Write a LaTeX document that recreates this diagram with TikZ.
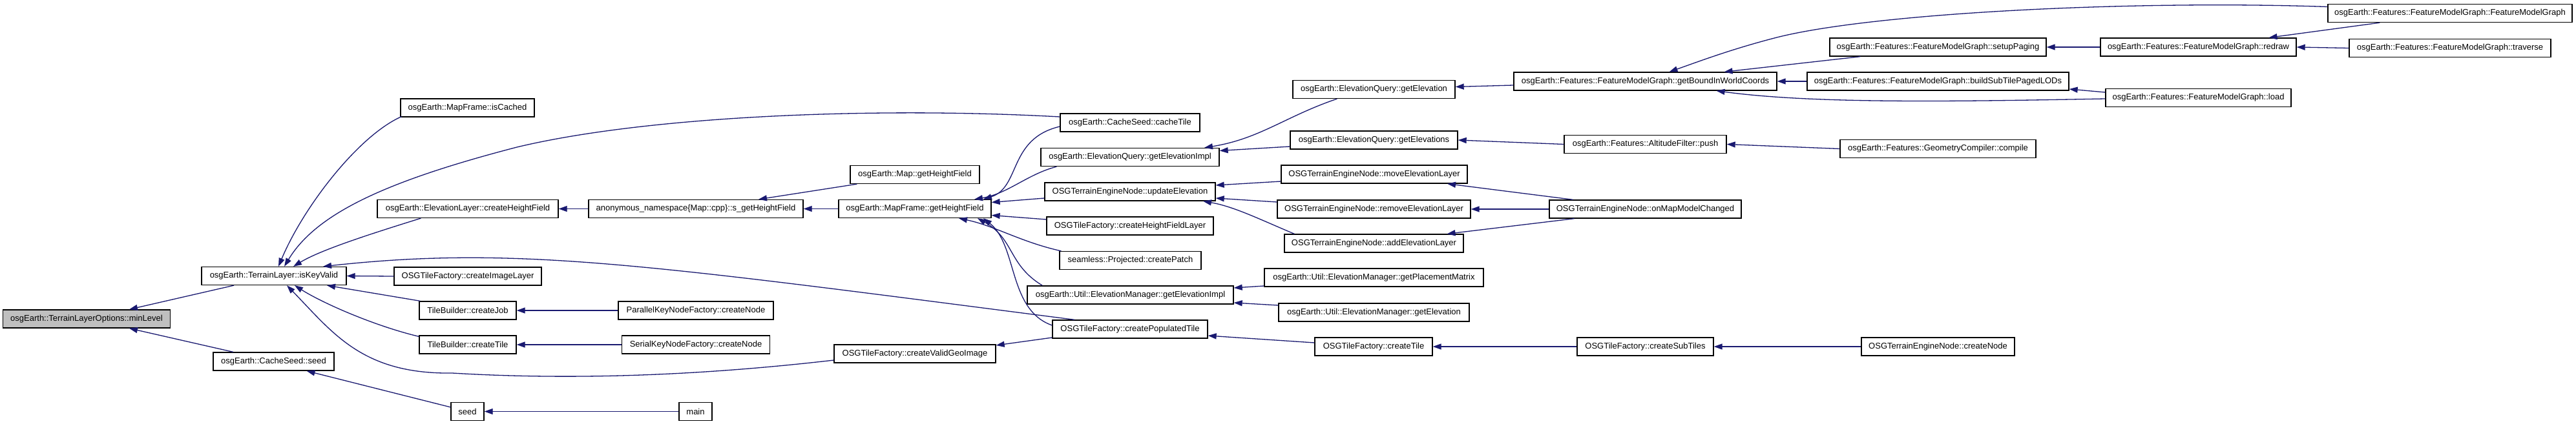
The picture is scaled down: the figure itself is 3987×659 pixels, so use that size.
\documentclass[tikz,border=0pt]{standalone}
\usepackage{fontspec}
\setmainfont{Liberation Sans}
\usetikzlibrary{arrows.meta,calc}
\definecolor{edgeblue}{HTML}{191970}
\definecolor{nodegrey}{HTML}{BFBFBF}
\tikzset{
  box/.style={draw=black, line width=1.3pt, fill=white, minimum height=28pt, inner sep=0pt, font=\fontsize{13}{15}\selectfont},
  edge/.style={draw=edgeblue, line width=1.3pt, -{Triangle[length=13pt,width=9pt]}}
}
\begin{document}
\begin{tikzpicture}[x=1pt,y=-1pt]
\fill[white] (0,0) rectangle (3987,659);
\useasboundingbox (0,0) rectangle (3987,659);
% nodes
\node[box,fill=nodegrey,minimum width=259pt] (ml) at (134,494) {osgEarth::TerrainLayerOptions::minLevel};
\node[box,minimum width=224pt] (kv) at (424,427.5) {osgEarth::TerrainLayer::isKeyValid};
\node[box,minimum width=187pt] (css) at (423.5,560) {osgEarth::CacheSeed::seed};
\node[box,minimum width=207pt] (ic) at (723.5,167) {osgEarth::MapFrame::isCached};
\node[box,minimum width=280pt] (echf) at (724,323.5) {osgEarth::ElevationLayer::createHeightField};
\node[box,minimum width=332pt] (anon) at (1077,323.5) {anonymous\_namespace\{Map::cpp\}::s\_getHeightField};
\node[box,minimum width=228pt] (cil) at (724,428) {OSGTileFactory::createImageLayer};
\node[box,minimum width=150pt] (cj) at (724,481) {TileBuilder::createJob};
\node[box,minimum width=240pt] (pk) at (1077,481) {ParallelKeyNodeFactory::createNode};
\node[box,minimum width=150pt] (ct) at (724,534) {TileBuilder::createTile};
\node[box,minimum width=229pt] (sk) at (1077,534) {SerialKeyNodeFactory::createNode};
\node[box,minimum width=51pt] (sd) at (723.5,637.5) {seed};
\node[box,minimum width=51pt] (mn) at (1076.5,637.5) {main};
\node[box,minimum width=200pt] (mghf) at (1416,270.5) {osgEarth::Map::getHeightField};
\node[box,minimum width=236pt] (mfghf) at (1416,323.5) {osgEarth::MapFrame::getHeightField};
\node[box,minimum width=250pt] (vgi) at (1416,548) {OSGTileFactory::createValidGeoImage};
\node[box,minimum width=216pt] (cst) at (1749,190) {osgEarth::CacheSeed::cacheTile};
\node[box,minimum width=276pt] (eqi) at (1749,243.5) {osgEarth::ElevationQuery::getElevationImpl};
\node[box,minimum width=264pt] (ue) at (1749,297) {OSGTerrainEngineNode::updateElevation};
\node[box,minimum width=258pt] (chfl) at (1749,350) {OSGTileFactory::createHeightFieldLayer};
\node[box,minimum width=219pt] (cp) at (1749.5,403.5) {seamless::Projected::createPatch};
\node[box,minimum width=319pt] (umi) at (1749.5,457) {osgEarth::Util::ElevationManager::getElevationImpl};
\node[box,minimum width=240pt] (cpt) at (1749,510) {OSGTileFactory::createPopulatedTile};
\node[box,minimum width=251pt] (eqe) at (2126.5,138.5) {osgEarth::ElevationQuery::getElevation};
\node[box,minimum width=259pt] (eqs) at (2126.5,217) {osgEarth::ElevationQuery::getElevations};
\node[box,minimum width=288pt] (mel) at (2127,270) {OSGTerrainEngineNode::moveElevationLayer};
\node[box,minimum width=299pt] (rel) at (2126.5,324) {OSGTerrainEngineNode::removeElevationLayer};
\node[box,minimum width=277pt] (ael) at (2126.5,377) {OSGTerrainEngineNode::addElevationLayer};
\node[box,minimum width=339pt] (pm) at (2126.5,430) {osgEarth::Util::ElevationManager::getPlacementMatrix};
\node[box,minimum width=295pt] (ume) at (2126.5,484) {osgEarth::Util::ElevationManager::getElevation};
\node[box,minimum width=182pt] (tct) at (2126,537) {OSGTileFactory::createTile};
\node[box,minimum width=407pt] (gb) at (2546.5,126) {osgEarth::Features::FeatureModelGraph::getBoundInWorldCoords};
\node[box,minimum width=251pt] (ap) at (2546.5,223.5) {osgEarth::Features::AltitudeFilter::push};
\node[box,minimum width=297pt] (omm) at (2546.5,324) {OSGTerrainEngineNode::onMapModelChanged};
\node[box,minimum width=211pt] (cst2) at (2546.5,537) {OSGTileFactory::createSubTiles};
\node[box,minimum width=335pt] (sp) at (2999.5,73) {osgEarth::Features::FeatureModelGraph::setupPaging};
\node[box,minimum width=405pt] (bs) at (2999.5,126) {osgEarth::Features::FeatureModelGraph::buildSubTilePagedLODs};
\node[box,minimum width=303pt] (gc) at (2999.5,230.5) {osgEarth::Features::GeometryCompiler::compile};
\node[box,minimum width=237pt] (cn) at (2999.5,537) {OSGTerrainEngineNode::createNode};
\node[box,minimum width=303pt] (rd) at (3402.5,73) {osgEarth::Features::FeatureModelGraph::redraw};
\node[box,minimum width=287pt] (ld) at (3402.5,151.5) {osgEarth::Features::FeatureModelGraph::load};
\node[box,minimum width=378pt] (fmg) at (3792,20.5) {osgEarth::Features::FeatureModelGraph::FeatureModelGraph};
\node[box,minimum width=312pt] (tr) at (3792,74.5) {osgEarth::Features::FeatureModelGraph::traverse};
% edges
\draw[edge] ($(kv.south)+(-62,0)$) -- ($(ml.north)+(66,0)$);
\draw[edge] ($(css.north)+(-62.5,0)$) -- ($(ml.south)+(66,0)$);
\draw[edge] ($(ic.south west)+(2,-1)$) .. controls (555,210) and (470,320) .. ($(kv.north)+(7,0)$);
\draw[edge] ($(cst.west)+(0,-9)$) .. controls (1350,165) and (1000,180) .. (800,228) .. controls (600,280) and (490,330) .. ($(kv.north)+(16,0)$);
\draw[edge] ($(echf.south west)+(68,0)$) .. controls (565,365) and (495,388) .. ($(kv.north)+(30,0)$);
\draw[edge] (cil.west) -- (kv.east);
\draw[edge] ($(cpt.north)+(-86,0)$) .. controls (1000,410) and (800,380) .. ($(kv.north)+(76,0)$);
\draw[edge] ($(cj.north west)+(2,0)$) -- ($(kv.south)+(82,0)$);
\draw[edge] ($(ct.north west)+(0,2)$) .. controls (580,505) and (500,470) .. ($(kv.south)+(32,0)$);
\draw[edge] ($(vgi.west)+(0,10)$) .. controls (1100,580) and (900,590) .. (700,578) .. controls (560,580) and (515,515) .. ($(kv.south)+(20,0)$);
\draw[edge] (anon.west) -- (echf.east);
\draw[edge] ($(mghf.south west)+(11,0)$) -- ($(anon.north)+(97,0)$);
\draw[edge] (mfghf.west) -- (anon.east);
\draw[edge] ($(cst.west)+(0,6)$) .. controls (1560,215) and (1580,290) .. ($(mfghf.north)+(106,0)$);
\draw[edge] ($(eqi.south west)+(25,0)$) .. controls (1590,270) and (1560,300) .. ($(mfghf.north)+(92,0)$);
\draw[edge] ($(ue.west)+(0,10)$) -- ($(mfghf.east)+(0,-10)$);
\draw[edge] ($(chfl.west)+(0,-10)$) -- ($(mfghf.east)+(0,10)$);
\draw[edge] ($(cp.north west)+(3,0)$) .. controls (1580,375) and (1540,350) .. ($(mfghf.south)+(68,0)$);
\draw[edge] ($(umi.north west)+(24,0)$) .. controls (1560,410) and (1570,370) .. ($(mfghf.south)+(97,0)$);
\draw[edge] ($(cpt.west)+(0,-6)$) .. controls (1560,480) and (1575,380) .. ($(mfghf.south)+(106,0)$);
\draw[edge] ($(cpt.west)+(0,13)$) -- ($(vgi.east)+(0,-13)$);
\draw[edge] (pk.west) -- (cj.east);
\draw[edge] (sk.west) -- (ct.east);
\draw[edge] ($(sd.north west)+(0,8)$) -- ($(css.south)+(51,0)$);
\draw[edge] (mn.west) -- (sd.east);
\draw[edge] ($(eqe.south west)+(69,0)$) .. controls (1990,180) and (1950,215) .. ($(eqi.north)+(115,0)$);
\draw[edge] ($(eqs.west)+(0,10)$) -- ($(eqi.east)+(0,-10)$);
\draw[edge] ($(gb.west)+(0,6)$) -- ($(eqe.east)+(0,-4)$);
\draw[edge] (ap.west) -- (eqs.east);
\draw[edge] (gc.west) -- (ap.east);
\draw[edge] ($(fmg.west)+(0,-10)$) .. controls (3300,0) and (2900,20) .. (2750,58) .. controls (2680,76) and (2630,95) .. ($(gb.north)+(37,0)$);
\draw[edge] ($(sp.south west)+(48,0)$) -- ($(gb.north)+(122,0)$);
\draw[edge] (bs.west) -- (gb.east);
\draw[edge] ($(ld.west)+(0,1.5)$) .. controls (3000,158) and (2800,160) .. ($(gb.south)+(110,0)$);
\draw[edge] (rd.west) -- (sp.east);
\draw[edge] ($(fmg.south west)+(81,0)$) -- ($(rd.north)+(109,0)$);
\draw[edge] (tr.west) -- (rd.east);
\draw[edge] ($(ld.west)+(0,-8.5)$) -- ($(bs.east)+(0,12)$);
\draw[edge] ($(mel.west)+(0,11)$) -- ($(ue.east)+(0,-10)$);
\draw[edge] ($(rel.west)+(0,-11)$) -- ($(ue.east)+(0,10)$);
\draw[edge] ($(ael.north west)+(16,0)$) .. controls (1950,340) and (1910,320) .. ($(ue.south)+(113,0)$);
\draw[edge] ($(omm.north)+(-112,0)$) -- ($(mel.south)+(113,0)$);
\draw[edge] (omm.west) -- (rel.east);
\draw[edge] ($(omm.south)+(-110,0)$) -- ($(ael.north)+(113,0)$);
\draw[edge] ($(pm.west)+(0,13)$) -- ($(umi.east)+(0,-11)$);
\draw[edge] ($(ume.west)+(0,-11)$) -- ($(umi.east)+(0,12)$);
\draw[edge] ($(tct.west)+(0,-6)$) -- ($(cpt.east)+(0,10)$);
\draw[edge] (cst2.west) -- (tct.east);
\draw[edge] (cn.west) -- (cst2.east);
\end{tikzpicture}
\end{document}
